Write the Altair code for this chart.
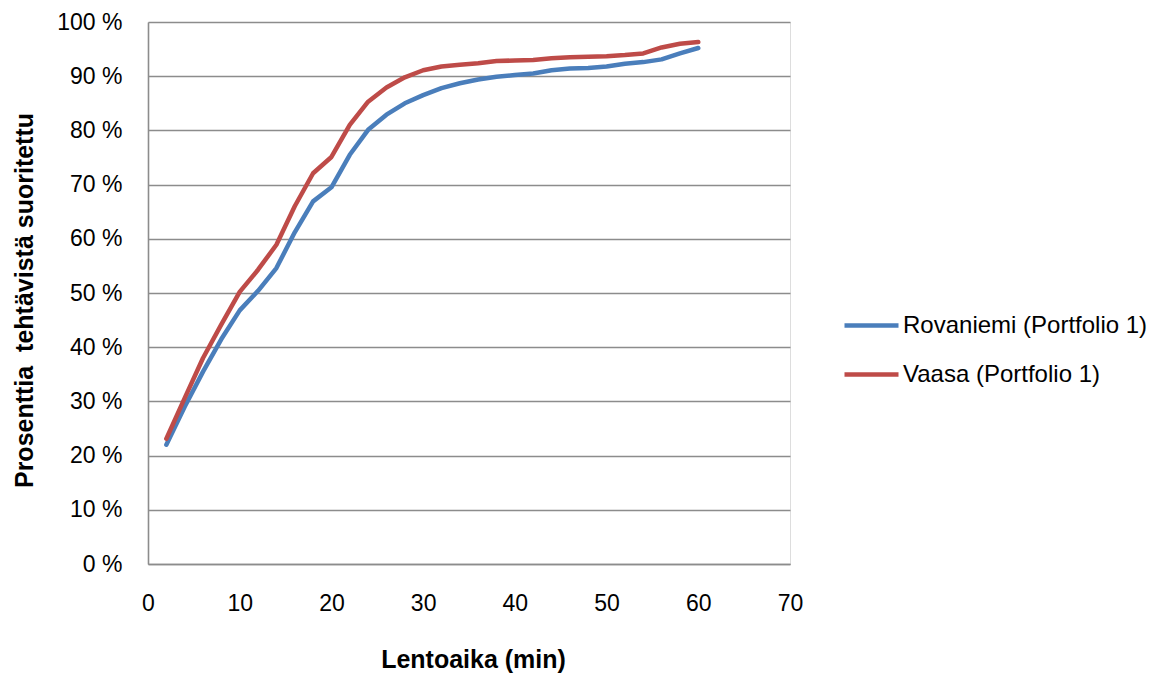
import altair as alt
import pandas as pd

# Flight time (min) and share of tasks completed (%) for each site
minutes = [2, 4, 6, 8, 10, 12, 14, 16, 18, 20, 22, 24, 26, 28, 30,
           32, 34, 36, 38, 40, 42, 44, 46, 48, 50, 52, 54, 56, 58, 60]
rovaniemi = [22.0, 29.0, 35.5, 41.5, 46.8, 50.4, 54.6, 61.2, 66.9, 69.5,
             75.5, 80.1, 82.9, 85.0, 86.5, 87.8, 88.7, 89.4, 89.9, 90.2,
             90.5, 91.1, 91.4, 91.5, 91.8, 92.3, 92.6, 93.1, 94.2, 95.2]
vaasa = [23.1, 30.6, 38.0, 44.2, 50.2, 54.3, 58.9, 66.0, 72.1, 75.1,
         81.0, 85.3, 87.9, 89.8, 91.1, 91.8, 92.1, 92.4, 92.8, 92.9,
         93.0, 93.3, 93.5, 93.6, 93.7, 93.9, 94.2, 95.3, 96.0, 96.3]

series_names = ["Rovaniemi (Portfolio 1)", "Vaasa (Portfolio 1)"]
series_colors = ["#4A7EBB", "#BE4B48"]

df = pd.concat([
    pd.DataFrame({"min": minutes, "pct": rovaniemi, "series": series_names[0]}),
    pd.DataFrame({"min": minutes, "pct": vaasa, "series": series_names[1]}),
])

FONT = "Liberation Sans"
GRID = "#8c8c8c"

chart = alt.Chart(df).mark_line(
    strokeWidth=4.5, strokeCap="round", strokeJoin="round"
).encode(
    x=alt.X(
        "min:Q",
        scale=alt.Scale(domain=[0, 70], nice=False),
        axis=alt.Axis(
            title="Lentoaika (min)",
            values=list(range(0, 71, 10)),
            grid=False, ticks=False, labelFlush=False,
            domainColor=GRID, domainWidth=1.6,
            labelFont=FONT, labelFontSize=23, labelColor="#000000",
            labelPadding=28,
            titleFont=FONT, titleFontSize=25, titleFontWeight="bold",
            titleColor="#000000",
            titleX=325, titleY=95, titleAlign="center", titleBaseline="middle",
        ),
    ),
    y=alt.Y(
        "pct:Q",
        scale=alt.Scale(domain=[0, 100], nice=False),
        axis=alt.Axis(
            title="Prosenttia\u00a0\u00a0tehtävistä suoritettu",
            values=list(range(0, 101, 10)),
            labelExpr="datum.value + ' %'",
            grid=True, gridColor=GRID, gridWidth=1.4,
            ticks=False, labelFlush=False,
            domainColor=GRID, domainWidth=1.6,
            labelFont=FONT, labelFontSize=23, labelColor="#000000",
            labelPadding=26,
            titleFont=FONT, titleFontSize=25, titleFontWeight="bold",
            titleColor="#000000",
            titleX=-124, titleY=278, titleAngle=270,
            titleAlign="center", titleBaseline="middle",
        ),
    ),
    color=alt.Color(
        "series:N",
        scale=alt.Scale(domain=series_names, range=series_colors),
        legend=alt.Legend(
            title=None,
            orient="none", legendX=694, legendY=274,
            symbolType="stroke", symbolSize=2916, symbolStrokeWidth=4.5,
            labelFont=FONT, labelFontSize=24, labelColor="#000000",
            labelOffset=2, labelLimit=0, rowPadding=7, padding=0,
        ),
    ),
).properties(
    width=642,
    height=542,
    autosize=alt.AutoSizeParams(type="none"),
    padding={"left": 148, "top": 22, "right": 370, "bottom": 109},
).configure_view(
    stroke=None
).configure(
    background="#ffffff"
)

chart.save("out.html", embed_options={"renderer": "svg", "actions": False})
